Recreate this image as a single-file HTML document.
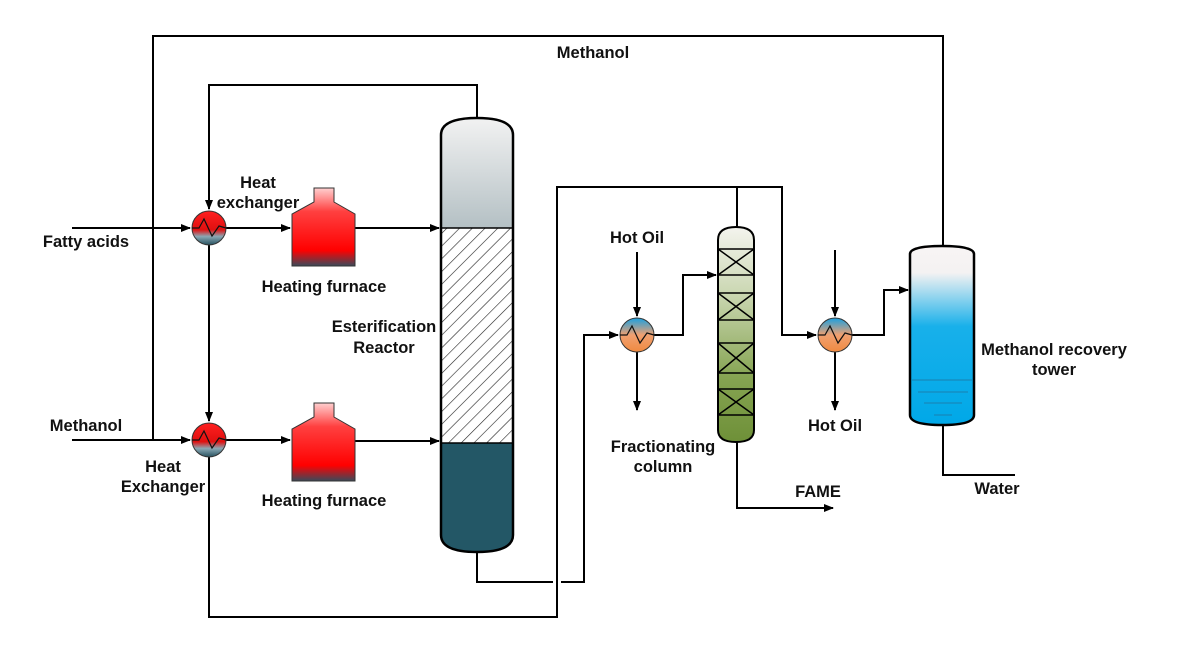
<!DOCTYPE html>
<html><head><style>
html,body{margin:0;padding:0;background:#fff;}
svg text{font-family:"Liberation Sans",sans-serif;font-weight:bold;font-size:16.5px;fill:#111;}
</style></head><body>
<svg width="1180" height="652" viewBox="0 0 1180 652" xmlns="http://www.w3.org/2000/svg">
<defs>
<marker id="a" markerWidth="10" markerHeight="8" refX="9" refY="4" orient="auto" markerUnits="userSpaceOnUse"><path d="M0,0 L10,4 L0,8 z" fill="#000"/></marker>
<linearGradient id="hxr" x1="0" y1="0" x2="0" y2="1"><stop offset="0" stop-color="#ff2020"/><stop offset="0.55" stop-color="#e01010"/><stop offset="0.75" stop-color="#8aa8b4"/><stop offset="1" stop-color="#25505e"/></linearGradient>
<linearGradient id="hxb" x1="0" y1="0" x2="0" y2="1"><stop offset="0" stop-color="#1aa0e0"/><stop offset="0.5" stop-color="#f0a070"/><stop offset="1" stop-color="#f08a40"/></linearGradient>
<linearGradient id="fur" x1="0" y1="0" x2="0" y2="1"><stop offset="0" stop-color="#ffd0d0"/><stop offset="0.3" stop-color="#ff4040"/><stop offset="0.8" stop-color="#ff0000"/><stop offset="1" stop-color="#3a4a5a"/></linearGradient>
<linearGradient id="rtop" x1="0" y1="0" x2="0" y2="1"><stop offset="0" stop-color="#f2f2f2"/><stop offset="1" stop-color="#b4c0c4"/></linearGradient>
<linearGradient id="col" x1="0" y1="0" x2="0" y2="1"><stop offset="0" stop-color="#f4f4ee"/><stop offset="0.3" stop-color="#ccd8b4"/><stop offset="0.7" stop-color="#86a452"/><stop offset="1" stop-color="#6e9038"/></linearGradient>
<linearGradient id="tow" x1="0" y1="0" x2="0" y2="1"><stop offset="0" stop-color="#f8f4f4"/><stop offset="0.15" stop-color="#f4f2f2"/><stop offset="0.45" stop-color="#18b0ea"/><stop offset="1" stop-color="#00a8e8"/></linearGradient>
<pattern id="hatch" width="9" height="9" patternUnits="userSpaceOnUse" patternTransform="rotate(45)"><rect width="9" height="9" fill="#fff"/><line x1="0" y1="0" x2="0" y2="9" stroke="#222" stroke-width="1.2"/></pattern>
</defs>
<g fill="none" stroke="#000" stroke-width="2">
<polyline points="153,440 153,36 943,36 943,246"/>
<polyline points="477,118 477,85 209,85 209,209" marker-end="url(#a)"/>
<polyline points="209,245 209,421" marker-end="url(#a)"/>
<polyline points="72,228 190,228" marker-end="url(#a)"/>
<polyline points="72,440 190,440" marker-end="url(#a)"/>
<polyline points="226,228 290,228" marker-end="url(#a)"/>
<polyline points="226,440 290,440" marker-end="url(#a)"/>
<polyline points="355,228 439,228" marker-end="url(#a)"/>
<polyline points="355,441 439,441" marker-end="url(#a)"/>
<polyline points="209,457 209,617 557,617 557,187 737,187 782,187 782,335 816,335" marker-end="url(#a)"/>
<line x1="737" y1="187" x2="737" y2="227"/>
<polyline points="477,552 477,582 553,582"/>
<polyline points="561,582 584,582 584,335 618,335" marker-end="url(#a)"/>
<polyline points="637,252 637,316" marker-end="url(#a)"/>
<polyline points="637,352 637,410" marker-end="url(#a)"/>
<polyline points="654,335 683,335 683,275 716,275" marker-end="url(#a)"/>
<polyline points="737,442 737,508 833,508" marker-end="url(#a)"/>
<polyline points="835,250 835,316" marker-end="url(#a)"/>
<polyline points="835,352 835,410" marker-end="url(#a)"/>
<polyline points="852,335 884,335 884,290 908,290" marker-end="url(#a)"/>
<polyline points="943,425 943,475 1015,475"/>
</g>
<path d="M441,228 L441,135 Q441,118 477,118 Q513,118 513,135 L513,228 Z" fill="url(#rtop)"/>
<rect x="441" y="228" width="72" height="215" fill="url(#hatch)"/>
<path d="M441,443 L513,443 L513,535 Q513,552 477,552 Q441,552 441,535 Z" fill="#235766"/>
<path d="M441,135 Q441,118 477,118 Q513,118 513,135 L513,535 Q513,552 477,552 Q441,552 441,535 Z" fill="none" stroke="#000" stroke-width="2.5"/>
<line x1="441" y1="228" x2="513" y2="228" stroke="#000" stroke-width="1.5"/>
<line x1="441" y1="443" x2="513" y2="443" stroke="#000" stroke-width="1.5"/>
<g stroke="#333" stroke-width="1">
<path d="M314,188 L334,188 L334,202 L355,214 L355,266 L292,266 L292,214 L314,202 Z" fill="url(#fur)"/>
<path d="M314,403 L334,403 L334,417 L355,429 L355,481 L292,481 L292,429 L314,417 Z" fill="url(#fur)"/>
</g>
<g stroke="#333" stroke-width="1">
<circle cx="209" cy="228" r="17" fill="url(#hxr)"/>
<circle cx="209" cy="440" r="17" fill="url(#hxr)"/>
<circle cx="637" cy="335" r="17" fill="url(#hxb)"/>
<circle cx="835" cy="335" r="17" fill="url(#hxb)"/>
</g>
<g fill="none" stroke="#111" stroke-width="1.2">
<polyline points="192,228 199,228 204,219 212,236 219,226 226,228"/>
<polyline points="192,440 199,440 204,431 212,448 219,438 226,440"/>
<polyline points="620,335 627,335 632,326 640,343 647,333 654,335"/>
<polyline points="818,335 825,335 830,326 838,343 845,333 852,335"/>
</g>
<path d="M718,240 Q718,227 736,227 Q754,227 754,240 L754,430 Q754,442 736,442 Q718,442 718,430 Z" fill="url(#col)" stroke="#000" stroke-width="2"/>
<g stroke="#000" stroke-width="1.5" fill="none">
<rect x="718" y="249" width="36" height="26"/><path d="M718,249 L754,275 M754,249 L718,275"/>
<rect x="718" y="293" width="36" height="27"/><path d="M718,293 L754,320 M754,293 L718,320"/>
<rect x="718" y="343" width="36" height="30"/><path d="M718,343 L754,373 M754,343 L718,373"/>
<rect x="718" y="389" width="36" height="26"/><path d="M718,389 L754,415 M754,389 L718,415"/>
</g>
<path d="M910,254 Q910,246 942,246 Q974,246 974,254 L974,415 Q974,425 942,425 Q910,425 910,415 Z" fill="url(#tow)" stroke="#000" stroke-width="2.5"/>
<g stroke="#1a80b0" stroke-width="1"><line x1="912" y1="380" x2="972" y2="380"/><line x1="918" y1="392" x2="968" y2="392"/><line x1="924" y1="403" x2="962" y2="403"/><line x1="934" y1="415" x2="952" y2="415"/></g>
<text x="593" y="58" text-anchor="middle">Methanol</text>
<text x="86" y="247" text-anchor="middle">Fatty acids</text>
<text x="86" y="431" text-anchor="middle">Methanol</text>
<text x="258" y="188" text-anchor="middle">Heat</text>
<text x="258" y="208" text-anchor="middle">exchanger</text>
<text x="163" y="472" text-anchor="middle">Heat</text>
<text x="163" y="492" text-anchor="middle">Exchanger</text>
<text x="324" y="292" text-anchor="middle">Heating furnace</text>
<text x="324" y="506" text-anchor="middle">Heating furnace</text>
<text x="384" y="332" text-anchor="middle">Esterification</text>
<text x="384" y="353" text-anchor="middle">Reactor</text>
<text x="637" y="243" text-anchor="middle">Hot Oil</text>
<text x="835" y="431" text-anchor="middle">Hot Oil</text>
<text x="663" y="452" text-anchor="middle">Fractionating</text>
<text x="663" y="472" text-anchor="middle">column</text>
<text x="818" y="497" text-anchor="middle">FAME</text>
<text x="1054" y="355" text-anchor="middle">Methanol recovery</text>
<text x="1054" y="375" text-anchor="middle">tower</text>
<text x="997" y="494" text-anchor="middle">Water</text>
</svg>
</body></html>
